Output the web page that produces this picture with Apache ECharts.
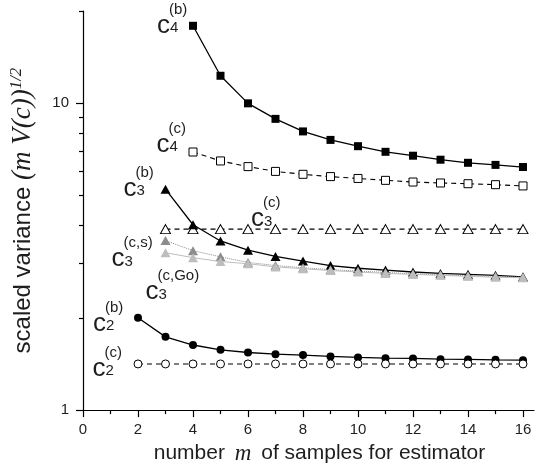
<!DOCTYPE html>
<html><head><meta charset="utf-8">
<script src="https://cdn.jsdelivr.net/npm/echarts@6/dist/echarts.min.js"></script>
<style>html,body{margin:0;padding:0;background:#fff}#c{width:535px;height:470px}</style>
</head><body><div id="c"></div>
<script>
const mC4 = [4, 5, 6, 7, 8, 9, 10, 11, 12, 13, 14, 15, 16];
const mC3 = [3, 4, 5, 6, 7, 8, 9, 10, 11, 12, 13, 14, 15, 16];
const mC2 = [2, 3, 4, 5, 6, 7, 8, 9, 10, 11, 12, 13, 14, 15, 16];
const c4b = [17.9, 12.3, 10.0, 8.9, 8.1, 7.6, 7.25, 6.95, 6.75, 6.55, 6.4, 6.3, 6.2];
const c4c = [6.94, 6.49, 6.22, 6.00, 5.87, 5.77, 5.69, 5.61, 5.54, 5.50, 5.47, 5.43, 5.38];
const c3b = [5.25, 4.02, 3.56, 3.32, 3.17, 3.06, 2.96, 2.90, 2.86, 2.82, 2.79, 2.77, 2.75, 2.72];
const c3c = [3.89, 3.89, 3.89, 3.89, 3.89, 3.89, 3.89, 3.89, 3.89, 3.89, 3.89, 3.89, 3.89, 3.89];
const c3cs = [3.57, 3.31, 3.16, 3.03, 2.96, 2.91, 2.87, 2.84, 2.81, 2.78, 2.76, 2.74, 2.73, 2.71];
const c3cGo = [3.26, 3.14, 3.05, 3.00, 2.93, 2.89, 2.85, 2.82, 2.79, 2.77, 2.75, 2.73, 2.71, 2.70];
const c2b = [2.00, 1.733, 1.63, 1.572, 1.541, 1.522, 1.511, 1.496, 1.485, 1.477, 1.474, 1.466, 1.463, 1.458, 1.455];
const c2c = [1.414, 1.414, 1.414, 1.414, 1.414, 1.414, 1.414, 1.414, 1.414, 1.414, 1.414, 1.414, 1.414, 1.414, 1.414];
const xMajorTicks = [0, 2, 4, 6, 8, 10, 12, 14, 16];
const xMinorTicks = [1, 3, 5, 7, 9, 11, 13, 15];
const yMajorTicks = [1, 10];
const yMinorTicks = [2, 3, 4, 5, 6, 7, 8, 9, 20];

const SANS = '"Liberation Sans", Arial, Helvetica, sans-serif';
const SERIF = '"Liberation Serif", "Times New Roman", serif';
const TXT = '#1e1e1e';

const RICH = {
  w: { width: 12, lineHeight: 12, fontSize: 15, fontFamily: SANS },
  sup: { fontSize: 15, lineHeight: 12, fontFamily: SANS, color: TXT },
  c: { fontSize: 26, lineHeight: 20, fontFamily: SANS, color: TXT },
  sub: { fontSize: 15, lineHeight: 14, verticalAlign: 'bottom', fontFamily: SANS, color: TXT }
};

function mk(name, ms, vals, st, annot) {
  const data = ms.map((m, i) => ({ value: [m, vals[i]] }));
  if (annot) {
    data[annot.idx].label = {
      show: true, position: annot.pos, align: 'left', verticalAlign: 'top',
      formatter: '{w| }{sup|' + annot.sup + '}\n{c|c}{sub|' + annot.sub + '}',
      rich: RICH
    };
  }
  return {
    name: name, type: 'line', data: data, xAxisIndex: 0, yAxisIndex: 0,
    symbol: st.symbol, symbolSize: st.size, showAllSymbol: true,
    lineStyle: { color: st.line, width: st.lw, type: st.dash },
    itemStyle: { color: st.fill, borderColor: st.border, borderWidth: st.bw },
    label: { show: false }, emphasis: { disabled: true }, z: st.z
  };
}

const series = [
  mk('c4b', mC4, c4b, { symbol: 'rect', size: 8, line: '#000', lw: 1.3, dash: 'solid', fill: '#000', border: '#000', bw: 0, z: 2 },
     { idx: 0, sub: '4', sup: '(b)', pos: [-32, -18] }),
  mk('c4c', mC4, c4c, { symbol: 'rect', size: 8, line: '#000', lw: 1.1, dash: [5, 4], fill: '#fff', border: '#000', bw: 1, z: 2 },
     { idx: 0, sub: '4', sup: '(c)', pos: [-32, -25] }),
  mk('c3c', mC3, c3c, { symbol: 'triangle', size: [10, 9], line: '#000', lw: 1.1, dash: [5, 4], fill: '#fff', border: '#000', bw: 1, z: 2 },
     { idx: 4, sub: '3', sup: '(c)', pos: [-19, -27] }),
  mk('c3b', mC3, c3b, { symbol: 'triangle', size: [10, 9], line: '#000', lw: 1.3, dash: 'solid', fill: '#000', border: '#000', bw: 0, z: 3 },
     { idx: 0, sub: '3', sup: '(b)', pos: [-37, -18] }),
  mk('c3cs', mC3, c3cs, { symbol: 'triangle', size: [10, 9], line: '#8a8a8a', lw: 1, dash: 'dotted', fill: '#8c8c8c', border: '#8c8c8c', bw: 0, z: 4 },
     { idx: 0, sub: '3', sup: '(c,s)', pos: [-49, 1] }),
  mk('c3cGo', mC3, c3cGo, { symbol: 'triangle', size: [10, 9], line: '#bdbdbd', lw: 1, dash: 'solid', fill: '#bdbdbd', border: '#bdbdbd', bw: 0, z: 5 },
     { idx: 0, sub: '3', sup: '(c,Go)', pos: [-15, 22] }),
  mk('c2b', mC2, c2b, { symbol: 'circle', size: 8, line: '#000', lw: 1.3, dash: 'solid', fill: '#000', border: '#000', bw: 0, z: 2 },
     { idx: 0, sub: '2', sup: '(b)', pos: [-41, -12] }),
  mk('c2c', mC2, c2c, { symbol: 'circle', size: 8, line: '#000', lw: 1.1, dash: [5, 4], fill: '#fff', border: '#000', bw: 1, z: 2 },
     { idx: 0, sub: '2', sup: '(c)', pos: [-41, -13] })
];

const axLine = { show: true, lineStyle: { color: '#000', width: 1.2 } };
const tickStyle = { color: '#000', width: 1.2 };

const option = {
  animation: false,
  grid: { left: 82, right: 1, top: 11, bottom: 59, containLabel: false },
  xAxis: [
    {
      type: 'value', min: 0, max: 16.4, interval: 2, position: 'bottom',
      axisLine: axLine,
      axisTick: { show: true, length: 7, customValues: xMajorTicks, lineStyle: tickStyle },
      axisLabel: { customValues: xMajorTicks, fontSize: 15, fontFamily: SANS, color: TXT, margin: 12 },
      splitLine: { show: false },
      name: 'number {it|m} of samples for estimator', nameLocation: 'middle', nameGap: 30,
      nameTextStyle: {
        fontSize: 21, fontFamily: SANS, color: TXT, padding: [0, 0, 0, 22],
        rich: { it: { fontFamily: SERIF, fontStyle: 'italic', fontSize: 23, color: TXT, padding: [0, 4, 0, 4] } }
      }
    },
    {
      type: 'value', min: 0, max: 16.4, interval: 1, position: 'bottom',
      axisLine: { show: false },
      axisTick: { show: true, length: 4, customValues: xMinorTicks, lineStyle: tickStyle },
      axisLabel: { show: false }, splitLine: { show: false }
    }
  ],
  yAxis: [
    {
      type: 'log', logBase: 10, min: 1, max: 20, position: 'left',
      axisLine: axLine,
      axisTick: { show: true, length: 7, customValues: yMajorTicks, lineStyle: tickStyle },
      axisLabel: { customValues: yMajorTicks, fontSize: 15, fontFamily: SANS, color: TXT, margin: 14 },
      splitLine: { show: false }, minorTick: { show: false },
      name: 'scaled variance {it|(m V(c))}{sup|1/2}', nameLocation: 'middle', nameGap: 45, nameRotate: 90,
      nameTextStyle: {
        fontSize: 24, fontFamily: SANS, color: TXT, lineHeight: 30,
        rich: {
          it: { fontFamily: SERIF, fontStyle: 'italic', fontSize: 27, color: TXT, lineHeight: 30 },
          sup: { fontFamily: SERIF, fontStyle: 'italic', fontSize: 17, color: TXT, lineHeight: 16, verticalAlign: 'top' }
        }
      }
    },
    {
      type: 'log', logBase: 10, min: 1, max: 20, position: 'left',
      axisLine: { show: false },
      axisTick: { show: true, length: 4, customValues: yMinorTicks, lineStyle: tickStyle },
      axisLabel: { show: false }, splitLine: { show: false }
    }
  ],
  series: series
};

const chart = echarts.init(document.getElementById('c'), null, { renderer: 'canvas' });
chart.setOption(option);
</script>
</body></html>
